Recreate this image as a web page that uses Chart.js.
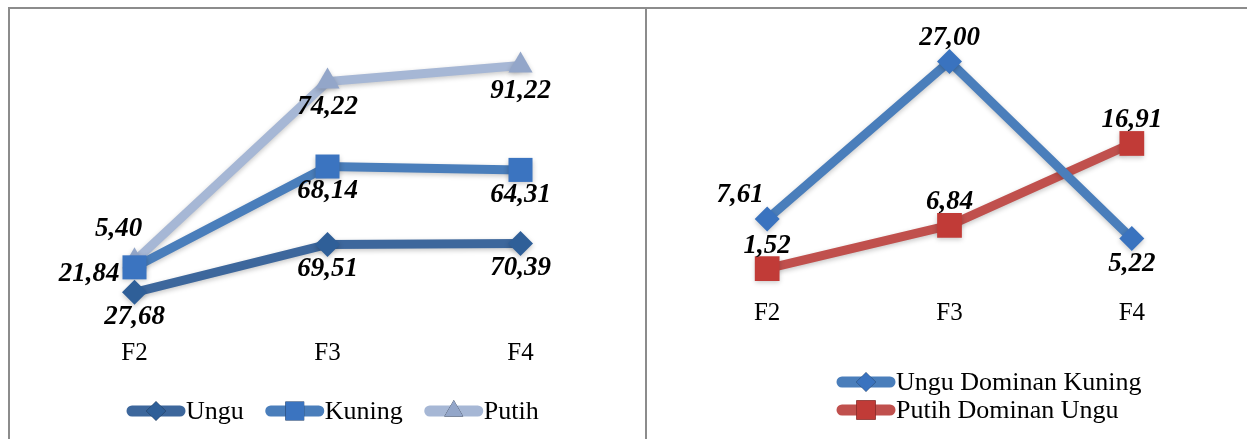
<!DOCTYPE html>
<html>
<head>
<meta charset="utf-8">
<script src="https://cdn.jsdelivr.net/npm/chart.js@4.4.0/dist/chart.umd.min.js"></script>
<style>
  body { margin: 0; width: 1247px; height: 439px; background: #fff; overflow: hidden; position: relative; }
  .rule { position: absolute; background: #8c8c8c; }
  #ruleTop { left: 8px; top: 7px; width: 1239px; height: 2px; }
  #ruleLeft { left: 8px; top: 7px; width: 2px; height: 432px; }
  #ruleMid { left: 645px; top: 7px; width: 2px; height: 432px; }
  .cell { position: absolute; top: 9px; height: 430px; }
  #leftCell { left: 10px; width: 635px; }
  #rightCell { left: 647px; width: 600px; }
</style>
</head>
<body>
<div class="rule" id="ruleTop"></div>
<div class="rule" id="ruleLeft"></div>
<div class="rule" id="ruleMid"></div>
<div class="cell" id="leftCell"><canvas id="leftChart" width="635" height="430"></canvas></div>
<div class="cell" id="rightCell"><canvas id="rightChart" width="600" height="430"></canvas></div>
<script>
// data
const categories = ['F2', 'F3', 'F4'];
const ungu = [27.68, 69.51, 70.39];
const kuning = [21.84, 68.14, 64.31];
const putih = [5.40, 74.22, 91.22];
const unguDominanKuning = [7.61, 27.00, 5.22];
const putihDominanUngu = [1.52, 6.84, 16.91];

const serif = '"Liberation Serif", "Times New Roman", serif';

function fmt(v) {
  return v.toFixed(2).replace('.', ',');
}

// data labels + line/marker legend, drawn on the canvas
const decorPlugin = {
  id: 'decor',
  beforeDatasetDraw(chart) {
    const ctx = chart.ctx;
    ctx.save();
    ctx.shadowColor = 'rgba(0,0,0,0.22)';
    ctx.shadowBlur = 5;
    ctx.shadowOffsetY = 2;
  },
  afterDatasetDraw(chart) {
    chart.ctx.restore();
  },
  afterDatasetsDraw(chart) {
    const ctx = chart.ctx;
    ctx.save();
    ctx.font = `italic bold 27px ${serif}`;
    ctx.fillStyle = '#000';
    ctx.textBaseline = 'middle';
    chart.data.datasets.forEach((ds, i) => {
      const meta = chart.getDatasetMeta(i);
      meta.data.forEach((pt, j) => {
        const pos = ds.labelPos[j];
        let x = pt.x, y = pt.y;
        ctx.textAlign = 'center';
        if (pos === 'below') y += 25;
        else if (pos === 'above') y -= 23;
        else if (pos === 'left') { x -= 15; y += 7; ctx.textAlign = 'right'; }
        else if (pos === 'aboveLeft') { x -= 16; y -= 32; }
        else if (pos === 'aboveLeftFar') { x -= 27; y -= 24; }
        ctx.fillText(fmt(ds.data[j]), x, y);
      });
    });
    ctx.restore();

    const lg = chart.options.plugins.decor;
    ctx.save();
    ctx.font = `26px ${serif}`;
    ctx.textBaseline = 'middle';
    ctx.textAlign = 'left';
    let x = lg.x;
    let y = lg.y;
    chart.data.datasets.forEach((ds) => {
      ctx.strokeStyle = ds.borderColor;
      ctx.lineWidth = 11;
      ctx.lineCap = 'round';
      ctx.beginPath();
      ctx.moveTo(x + 5, y);
      ctx.lineTo(x + 53, y);
      ctx.stroke();
      Chart.helpers.drawPoint(ctx, {
        pointStyle: ds.pointStyle,
        radius: ds.pointRadius * 0.78,
        rotation: 0,
        borderWidth: 0
      }, x + 29, y);
      ctx.fillStyle = ds.pointBackgroundColor;
      ctx.fill();
      ctx.fillStyle = '#000';
      ctx.fillText(ds.label, x + 59, y + 1);
      const w = 59 + ctx.measureText(ds.label).width;
      if (lg.rows) {
        y += lg.rowGap;
      } else {
        x += w + 22;
      }
    });
    ctx.restore();
  }
};

function lineSet(label, data, color, marker, style, radius, labelPos) {
  return {
    label,
    data,
    borderColor: color,
    backgroundColor: marker,
    pointBackgroundColor: marker,
    pointBorderColor: marker,
    pointBorderWidth: 0,
    borderWidth: 9,
    pointStyle: style,
    pointRadius: radius,
    tension: 0,
    clip: false,
    labelPos
  };
}

const xAxis = (pad) => ({
  offset: true,
  grid: { display: false, drawTicks: false },
  border: { display: false },
  ticks: { color: '#000', padding: pad, font: { family: serif, size: 25 } }
});

new Chart(document.getElementById('leftChart'), {
  type: 'line',
  data: {
    labels: categories,
    datasets: [
      lineSet('Ungu', ungu, '#3d679c', '#2f5f98', 'rectRot', 12.5, ['below', 'below', 'below']),
      lineSet('Kuning', kuning, '#4a7ebb', '#3b74c0', 'rect', 17, ['left', 'below', 'below']),
      lineSet('Putih', putih, '#a6b7d5', '#93a6c9', 'triangle', 14, ['aboveLeft', 'below', 'below'])
    ]
  },
  options: {
    animation: false,
    responsive: false,
    layout: { padding: { left: 28, right: 28, top: 29, bottom: 57 } },
    scales: {
      x: xAxis(14),
      y: { display: false, stacked: true, min: 0, max: 250 }
    },
    plugins: {
      legend: { display: false },
      tooltip: { enabled: false },
      decor: { x: 117, y: 402, rows: false }
    }
  },
  plugins: [decorPlugin]
});

new Chart(document.getElementById('rightChart'), {
  type: 'line',
  data: {
    labels: categories,
    datasets: [
      lineSet('Ungu Dominan Kuning', unguDominanKuning, '#4a7ebb', '#3a73bf', 'rectRot', 12.5, ['aboveLeftFar', 'above', 'below']),
      lineSet('Putih Dominan Ungu', putihDominanUngu, '#c0504d', '#c13b37', 'rect', 17.5, ['above', 'above', 'above'])
    ]
  },
  options: {
    animation: false,
    responsive: false,
    layout: { padding: { left: 29, right: 24, top: 28, bottom: 94 } },
    scales: {
      x: xAxis(17),
      y: { display: false, min: 0, max: 30 }
    },
    plugins: {
      legend: { display: false },
      tooltip: { enabled: false },
      decor: { x: 190, y: 373, rows: true, rowGap: 28 }
    }
  },
  plugins: [decorPlugin]
});
</script>
</body>
</html>
